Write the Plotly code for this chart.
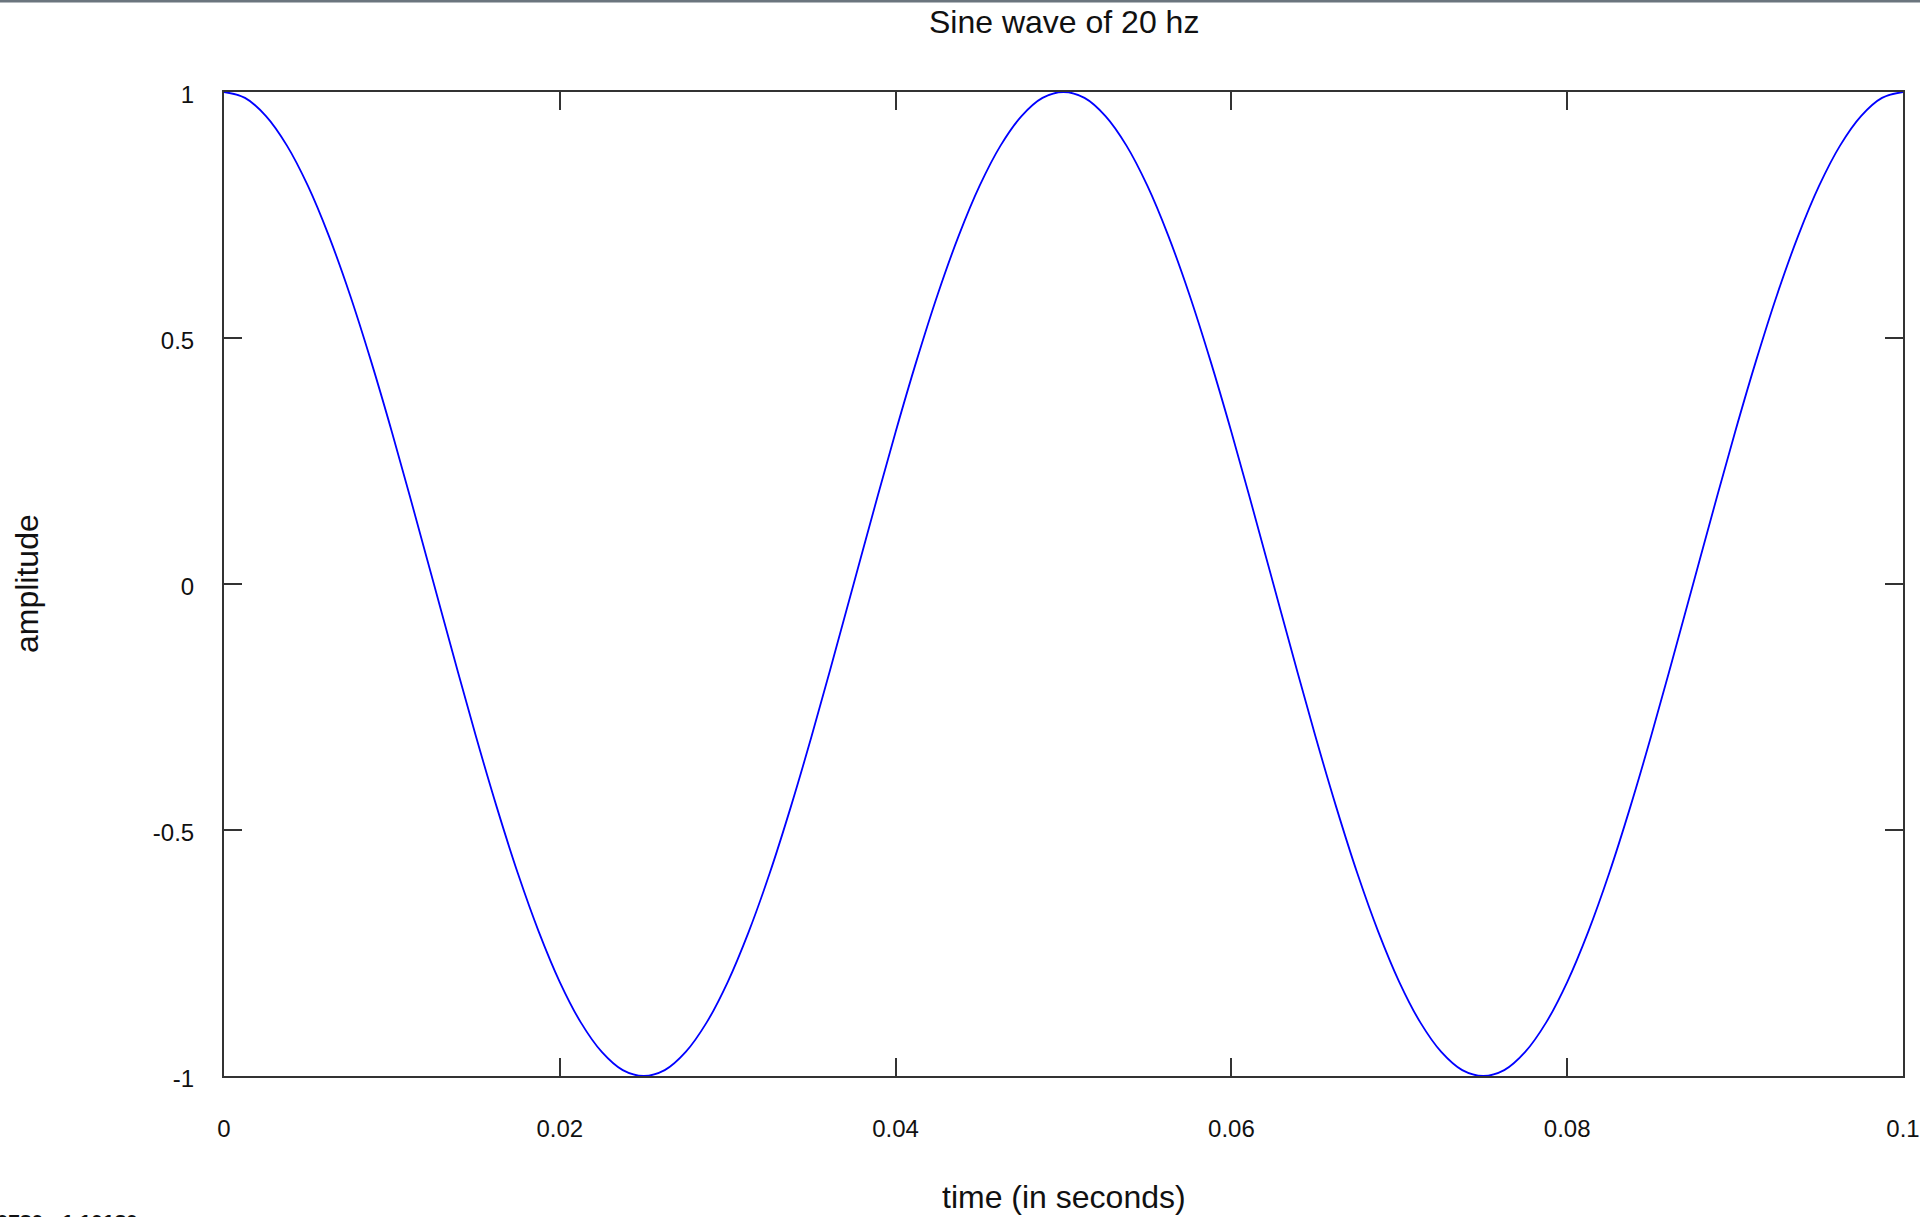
import plotly.graph_objects as go

# time samples (seconds)
time_s = [round(i * 0.00125, 5) for i in range(81)]

# amplitude (20 Hz wave, starts at peak)
amplitude = [
    1.000, 0.988, 0.951, 0.891, 0.809, 0.707, 0.588, 0.454, 0.309, 0.156,
    0.000, -0.156, -0.309, -0.454, -0.588, -0.707, -0.809, -0.891, -0.951, -0.988,
    -1.000, -0.988, -0.951, -0.891, -0.809, -0.707, -0.588, -0.454, -0.309, -0.156,
    0.000, 0.156, 0.309, 0.454, 0.588, 0.707, 0.809, 0.891, 0.951, 0.988,
    1.000, 0.988, 0.951, 0.891, 0.809, 0.707, 0.588, 0.454, 0.309, 0.156,
    0.000, -0.156, -0.309, -0.454, -0.588, -0.707, -0.809, -0.891, -0.951, -0.988,
    -1.000, -0.988, -0.951, -0.891, -0.809, -0.707, -0.588, -0.454, -0.309, -0.156,
    0.000, 0.156, 0.309, 0.454, 0.588, 0.707, 0.809, 0.891, 0.951, 0.988,
    1.000,
]

x_ticks = [0, 0.02, 0.04, 0.06, 0.08, 0.1]
x_tick_labels = ["0", "0.02", "0.04", "0.06", "0.08", "0.1"]
y_ticks = [-1, -0.5, 0, 0.5, 1]
y_tick_labels = ["-1", "-0.5", "0", "0.5", "1"]

title_text = "Sine wave of 20 hz"
x_title = "time (in seconds)"
y_title = "amplitude"
cursor_text = "0.0780, -1.10180"

W, H = 1920, 1217
L, R, T, B = 224, 17, 92, 141
PW = W - L - R
PH = H - T - B

def px_x(p):
    return (p - L) / PW

def px_y(p):
    return (H - B - p) / PH

FONT = "Liberation Sans, Arial, sans-serif"

fig = go.Figure()
fig.add_trace(go.Scatter(
    x=time_s, y=amplitude, mode="lines",
    line=dict(color="#0000ff", width=1.8, shape="spline"),
    showlegend=False, hoverinfo="skip",
))

axis_common = dict(
    showline=True, linecolor="#333333", linewidth=2,
    mirror="ticks", ticks="inside", ticklen=18, tickwidth=1.5, tickcolor="#333333",
    showgrid=False, zeroline=False,
    tickfont=dict(family=FONT, size=24, color="#111111"),
)

fig.update_xaxes(
    range=[0, 0.1], tickmode="array", tickvals=x_ticks, ticktext=x_tick_labels,
    ticklabelstandoff=30, **axis_common,
)
fig.update_yaxes(
    range=[-1, 1], tickmode="array", tickvals=y_ticks, ticktext=y_tick_labels,
    ticklabelstandoff=23, ticklabelshift=3, **axis_common,
)

fig.update_layout(
    width=W, height=H,
    margin=dict(l=L, r=R, t=T, b=B, autoexpand=False),
    paper_bgcolor="white", plot_bgcolor="white",
    font=dict(family=FONT, color="#111111"),
    annotations=[
        dict(text=title_text, xref="paper", yref="paper", x=0.5, y=px_y(22),
             xanchor="center", yanchor="middle", showarrow=False,
             font=dict(family=FONT, size=32, color="#111111")),
        dict(text=x_title, xref="paper", yref="paper", x=0.5, y=px_y(1197),
             xanchor="center", yanchor="middle", showarrow=False,
             font=dict(family=FONT, size=32, color="#111111")),
        dict(text=y_title, xref="paper", yref="paper", x=px_x(27), y=0.5,
             xanchor="center", yanchor="middle", textangle=-90, showarrow=False,
             font=dict(family=FONT, size=32, color="#111111")),
        dict(text="<b>" + cursor_text + "</b>", xref="paper", yref="paper",
             x=px_x(140), y=px_y(1208), xanchor="right", yanchor="top",
             showarrow=False, font=dict(family=FONT, size=21, color="#111111")),
    ],
    shapes=[
        dict(type="rect", xref="paper", yref="paper",
             x0=px_x(-5), x1=px_x(W + 5), y0=px_y(2.5), y1=px_y(-5),
             fillcolor="#6b757e", line=dict(width=0), layer="above"),
    ],
)

fig.write_html(
    "out.html",
    config={"displayModeBar": False},
    post_script="document.body.style.margin='0';document.body.style.overflow='hidden';",
)
